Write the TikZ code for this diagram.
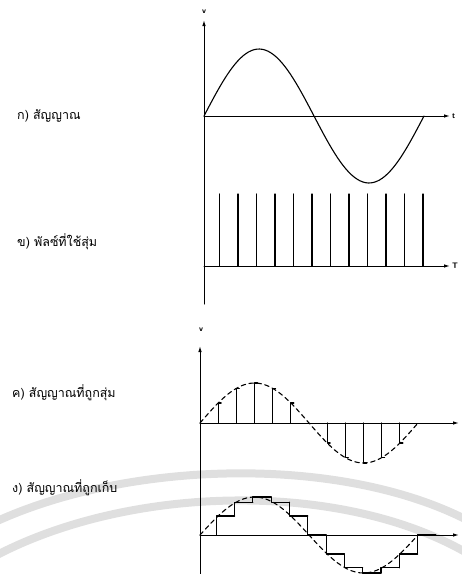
\documentclass[tikz,border=0pt]{standalone}
\usepackage{fontspec}
\newfontfamily\thaifont[Script=Thai]{Loma}
\usetikzlibrary{arrows.meta}

\tikzset{
  axis/.style={line width=1pt, -{Latex[length=6pt,width=3.5pt]}},
  wave/.style={line width=1.1pt},
  guide/.style={line width=1.1pt, dash pattern=on 4.5pt off 3.5pt},
  caption/.style={anchor=west, inner sep=0pt, font=\thaifont\fontsize{12.5}{14}\selectfont},
  tag/.style={font=\sffamily\bfseries\footnotesize, inner sep=1pt},
  watermark/.style={line width=8pt, gray!25}
}

\begin{document}
\begin{tikzpicture}[line cap=round, line join=round, x=1pt, y=-1pt]
  \useasboundingbox (0,0) rectangle (462,574);
  \clip (0,0) rectangle (462,574);
  % watermark bands
  \draw[watermark] (-5,522) .. controls (130,460) and (340,455) .. (467,520);
  \draw[watermark] (-5,556) .. controls (130,485) and (340,480) .. (467,553);

  % origins
  \coordinate (oa) at (204,116);
  \coordinate (ob) at (204,266);
  \coordinate (oc) at (200,423);
  \coordinate (od) at (200,535);

  % upper pair of plots
  \draw[axis] (204,304) -- (204,20) coordinate (va);
  \node[tag] (lva) at (204,12) {v};
  \draw[axis] (oa) -- (450,116) coordinate (ta);
  \node[tag, right=1pt] (lta) at (ta) {t};
  \draw[wave] plot[domain=0:220, samples=80] ({204+\x}, {116-67*sin(\x/220*360)});
  \draw[axis] (ob) -- (450,266) coordinate (tb);
  \node[tag, right=1pt] (ltb) at (tb) {T};
  \foreach \k in {1,...,12}
    \draw[wave] ({201+\k*18.5},266) -- ({201+\k*18.5},194);

  % lower pair of plots
  \draw[axis] (200,574) -- (200,346) coordinate (vc);
  \node[tag] (lvc) at (201,330) {v};
  \draw[axis] (oc) -- (459,423);
  \draw[guide] plot[domain=0:218, samples=80] ({200+\x}, {423-40*sin(\x/218*360)});
  \foreach \k in {1,2,3,4,5,7,8,9,10,11}
    \draw[wave] ({200+\k*18.17},423) -- ({200+\k*18.17},{423-40*sin(30*\k)}) -- ++(3,0);
  \draw[axis] (od) -- (459,535);
  \draw[guide] plot[domain=0:218, samples=80] ({200+\x}, {535-38*sin(\x/218*360)});
  \foreach \k in {1,...,12}
    \draw[wave] ({198+\k*18.3},{535-38*sin(30*(\k-1))}) -- ({198+\k*18.3},{535-38*sin(30*\k)})
      -- ({198+(\k+1)*18.3},{535-38*sin(30*\k)});

  % captions
  \node[caption] (ca) at (17,116) {ก) สัญญาณ};
  \node[caption] (cb) at (17,242) {ข) พัลซ์ที่ใช้สุ่ม};
  \node[caption] (cc) at (12,393) {ค) สัญญาณที่ถูกสุ่ม};
  \node[caption] (cd) at (12,488) {ง) สัญญาณที่ถูกเก็บ};
\end{tikzpicture}
\end{document}
